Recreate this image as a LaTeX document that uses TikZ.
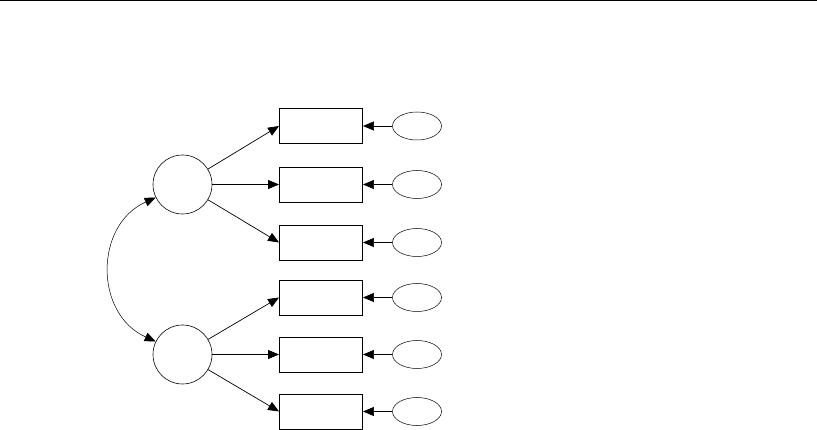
\documentclass[tikz,border=0pt]{standalone}
\usetikzlibrary{arrows.meta,shapes.geometric}
\begin{document}
\begin{tikzpicture}[x=1pt,y=-1pt,
  obs/.style={draw,line width=0.9pt,minimum width=83pt,minimum height=35pt,inner sep=0pt},
  lat/.style={draw,circle,line width=0.6pt,minimum size=59pt,inner sep=0pt},
  err/.style={draw,ellipse,line width=0.5pt,minimum width=49pt,minimum height=28pt,inner sep=0pt},
  arr/.style={line width=0.7pt,-{Triangle[length=11pt,width=9pt]}},
  cov/.style={line width=0.5pt,{Triangle[length=11pt,width=9pt]}-{Triangle[length=11pt,width=9pt]}}]
\useasboundingbox (0,0) rectangle (817,430);
\draw[line width=1pt] (0,1) coordinate (t0) -- (817,1) coordinate (t1);
\node[lat] (l1) at (182.5,184.5) {};
\node[lat] (l2) at (182.5,354.5) {};
\foreach \i/\y in {1/126,2/184.5,3/242.5,4/297.5,5/354.5,6/411.5}{
  \node[obs] (r\i) at (321,\y) {};
  \node[err] (e\i) at (417,\y) {};
  \draw[arr] (e\i) -- (r\i);
}
\foreach \i in {1,2,3}{\draw[arr] (l1) -- (r\i.west);}
\foreach \i in {4,5,6}{\draw[arr] (l2) -- (r\i.west);}
\draw[cov] (l1.206) to[out=204,in=156,looseness=1.2] (l2.154);
\end{tikzpicture}
\end{document}
